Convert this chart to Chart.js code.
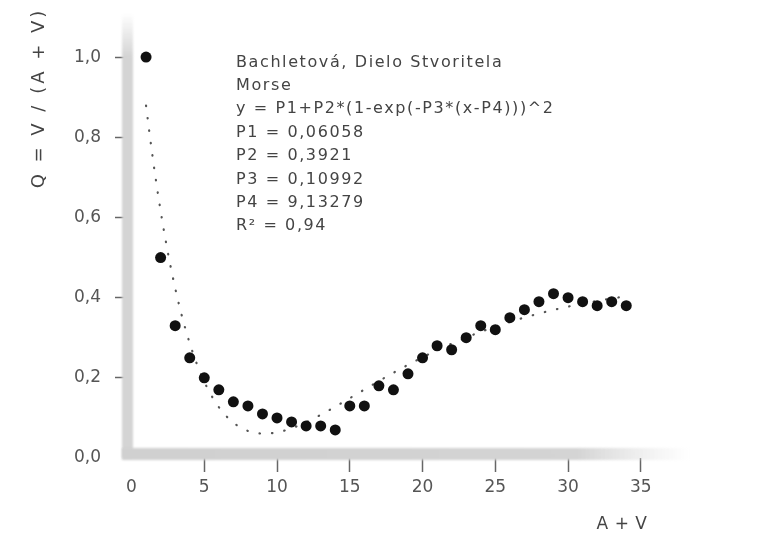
<!DOCTYPE html>
<html>
<head>
<meta charset="utf-8">
<script src="https://cdn.jsdelivr.net/npm/chart.js@4.4.0/dist/chart.umd.min.js"></script>
<style>
  html, body { margin: 0; padding: 0; background: #fff; }
  #contenedor { width: 757px; height: 535px; position: relative; }
</style>
</head>
<body>
<div id="contenedor"><canvas id="graficoMorse"></canvas></div>
<script>
// Datos: Q = V / (A + V) para cada A + V
const sumaAV = [1, 2, 3, 4, 5, 6, 7, 8, 9, 10, 11, 12, 13, 14, 15, 16, 17,
  18, 19, 20, 21, 22, 23, 24, 25, 26, 27, 28, 29, 30, 31, 32, 33, 34];
const cocienteQ = [1.0, 0.50, 0.33, 0.25, 0.20, 0.17, 0.14, 0.13, 0.11, 0.10, 0.09, 0.08, 0.08, 0.07,
  0.13, 0.13, 0.18, 0.17, 0.21, 0.25, 0.28, 0.27, 0.30, 0.33, 0.32, 0.35, 0.37, 0.39,
  0.41, 0.40, 0.39, 0.38, 0.39, 0.38];

// Ajuste de Morse: P1, P2, P3, P4 y R²
const nombresParametros = ["P1", "P2", "P3", "P4"];
const parametrosMorse = [0.06058, 0.3921, 0.10992, 9.13279];
const rCuadrado = 0.94;

// Marcas de los ejes
const ticksX = [0, 5, 10, 15, 20, 25, 30, 35];
const ticksY = [0, 0.2, 0.4, 0.6, 0.8, 1.0];

const tituloX = "A + V";
const tituloY = "Q = V / (A + V)";

const coma = v => String(v).replace(".", ",");

function morse(x) {
  const [p1, p2, p3, p4] = parametrosMorse;
  return p1 + p2 * Math.pow(1 - Math.exp(-p3 * (x - p4)), 2);
}

// curva del ajuste entre el primer y el último punto
const curvaMorse = [];
for (let x = sumaAV[0]; x <= sumaAV[sumaAV.length - 1] + 1e-9; x += 0.25) {
  curvaMorse.push({ x: x, y: morse(x) });
}

const lineasTexto = [
  "Bachletová, Dielo Stvoritela",
  "Morse",
  "y = P1+P2*(1-exp(-P3*(x-P4)))^2",
  ...nombresParametros.map((n, i) => n + " = " + coma(parametrosMorse[i])),
  "R² = " + coma(rCuadrado)
];

const FUENTE = "'DejaVu Sans', sans-serif";

// Ejes gruesos grises, títulos y bloque de texto
const decoracion = {
  id: "decoracion",
  beforeDatasetsDraw(chart) {
    const { ctx, chartArea: { left, right, top, bottom } } = chart;
    ctx.save();
    ctx.filter = "blur(1.2px)";
    // eje vertical
    let g = ctx.createLinearGradient(0, top - 4, 0, top + 40);
    g.addColorStop(0, "rgba(212,212,212,0)");
    g.addColorStop(1, "rgba(212,212,212,1)");
    ctx.fillStyle = g;
    ctx.fillRect(left - 5, top - 4, 11, bottom - top + 4);
    // eje horizontal
    g = ctx.createLinearGradient(left, 0, right, 0);
    g.addColorStop(0, "rgba(208,208,208,1)");
    g.addColorStop(0.8, "rgba(212,212,212,1)");
    g.addColorStop(1, "rgba(225,225,225,0)");
    ctx.fillStyle = g;
    ctx.fillRect(left - 5, bottom - 10, right - left + 5, 12);
    ctx.restore();
  },
  afterDraw(chart) {
    const { ctx } = chart;
    ctx.save();
    ctx.fillStyle = "#444";
    ctx.font = "16px " + FUENTE;
    ctx.letterSpacing = "1.6px";
    ctx.textBaseline = "alphabetic";
    ctx.textAlign = "left";
    lineasTexto.forEach((t, i) => ctx.fillText(t, 236, 66.5 + i * 23.4));

    ctx.font = "17px " + FUENTE;
    ctx.letterSpacing = "0.5px";
    ctx.textAlign = "center";
    ctx.fillText(tituloX, 622, 529);

    ctx.font = "18px " + FUENTE;
    ctx.letterSpacing = "3px";
    ctx.textBaseline = "middle";
    ctx.translate(39, 98);
    ctx.rotate(-Math.PI / 2);
    ctx.fillText(tituloY, 0, 0);
    ctx.restore();
  }
};

document.addEventListener("DOMContentLoaded", () => {
  const ctx = document.getElementById("graficoMorse");
  new Chart(ctx, {
    type: "scatter",
    data: {
      datasets: [
        {
          label: "Morse",
          data: curvaMorse,
          showLine: true,
          borderColor: "#555",
          borderWidth: 2.2,
          borderDash: [0.5, 12],
          borderCapStyle: "round",
          pointRadius: 0,
          tension: 0,
          order: 2
        },
        {
          label: "Q",
          data: sumaAV.map((x, i) => ({ x: x, y: cocienteQ[i] })),
          backgroundColor: "#111",
          borderWidth: 0,
          pointRadius: 5.5,
          order: 1
        }
      ]
    },
    options: {
      responsive: true,
      maintainAspectRatio: false,
      animation: false,
      devicePixelRatio: 1,
      layout: { padding: { top: 17, right: 67, left: 0, bottom: 0 } },
      plugins: { legend: { display: false }, tooltip: { enabled: false } },
      scales: {
        x: {
          type: "linear",
          min: -0.31,
          max: 38.38,
          afterBuildTicks: s => { s.ticks = ticksX.map(v => ({ value: v })); },
          afterFit: s => { s.height = 77; s.paddingLeft = 0; s.paddingRight = 0; },
          border: { display: false },
          grid: {
            drawOnChartArea: false,
            tickLength: 14,
            tickWidth: 1.5,
            tickColor: c => (c.tick && c.tick.value === 0 ? "rgba(0,0,0,0)" : "#666")
          },
          ticks: {
            color: "#555",
            padding: 5,
            maxRotation: 0,
            font: { family: FUENTE, size: 17 }
          }
        },
        y: {
          min: 0,
          max: 1.1,
          afterBuildTicks: s => { s.ticks = ticksY.map(v => ({ value: v })); },
          afterFit: s => { s.width = 127; s.paddingTop = 0; s.paddingBottom = 0; },
          border: { display: false },
          grid: {
            drawOnChartArea: false,
            tickLength: 12,
            tickWidth: 1.5,
            tickColor: c => (c.tick && c.tick.value === 0 ? "rgba(0,0,0,0)" : "#666")
          },
          ticks: {
            color: "#555",
            padding: 14,
            font: { family: FUENTE, size: 17 },
            callback: v => v.toFixed(1).replace(".", ",")
          }
        }
      }
    },
    plugins: [decoracion]
  });
});
</script>
</body>
</html>
